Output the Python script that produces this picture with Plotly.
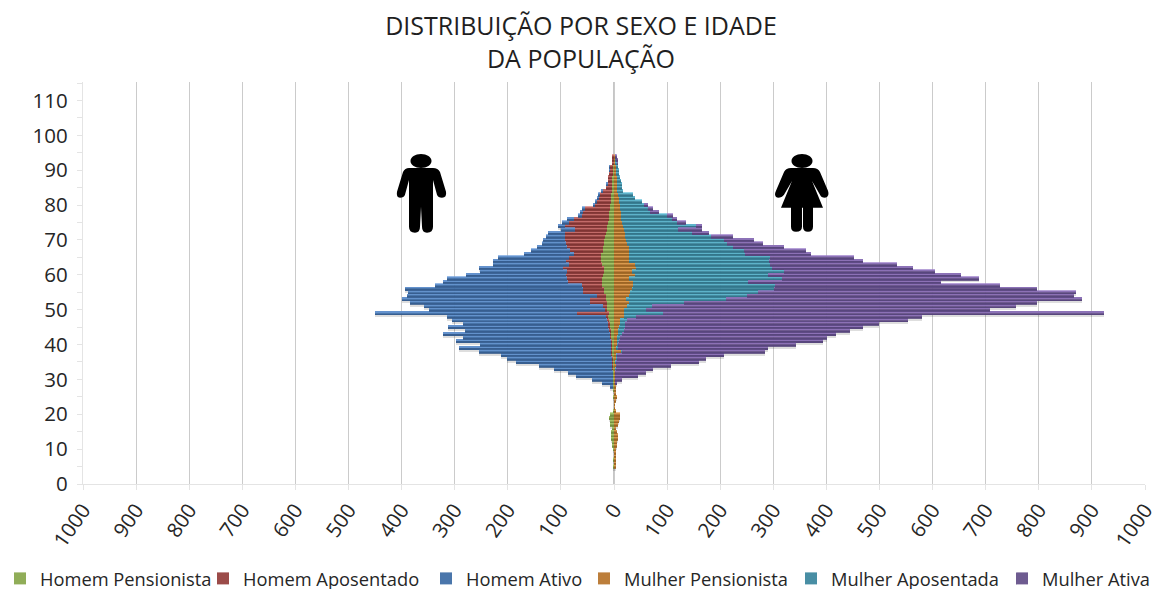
import numpy as np
import plotly.graph_objects as go

W, H = 1156, 589
ML, MR, MT, MB = 83, 11, 82, 104.5

ages = list(range(94, 4, -1))

homem_pensionista = [0,1,1,2,2,2,3,3,3,3,4,5,5,6,7,7,9,10,10,12,14,14,16,17,18,18,20,21,24,24,24,22,19,19,21,22,22,22,19,18,15,15,14,14,13,10,12,10,8,8,7,6,6,5,5,4,5,4,3,3,2,2,2,2,1,1,1,
                     1,0,1,0,0,0,1,8,9,8,7,4,5,6,6,2,2,1,0,0,1,0,1]
homem_aposentado = [2,2,3,6,6,7,8,8,10,12,18,23,25,27,29,48,49,50,66,72,78,59,76,75,74,72,68,62,51,61,66,63,77,69,69,66,64,38,39,40,17,30,31,7,4,60,3,3,4,3,2,1,1,1,1,1,1,1,1,1,1,1,0,0,0,0,0,
                    0,0,0,0,0,0,0,0,0,0,0,0,0,0,0,0,0,0,0,0,0,0,0]
homem_ativo = [0,0,0,1,1,0,0,0,1,0,1,2,2,2,2,5,6,8,12,14,13,27,32,36,41,46,57,74,94,133,138,143,158,164,189,227,236,277,335,330,358,355,339,337,331,380,300,292,272,301,271,315,277,292,246,286,248,208,198,180,138,110,84,70,40,22,7,
               0,0,0,0,0,0,0,0,0,0,0,0,0,0,0,0,0,0,0,0,0,0,0]
mulher_pensionista = [2,3,3,3,4,4,5,5,5,6,6,8,9,10,11,12,13,13,14,15,16,18,20,21,22,24,28,28,28,28,28,40,42,33,40,29,36,36,33,31,28,22,28,25,19,19,19,12,12,10,8,8,6,6,6,5,14,5,4,3,3,2,2,2,2,3,3,
                      3,4,5,2,1,1,2,11,11,9,7,4,6,7,8,5,5,3,2,2,3,3,3]
mulher_aposentada = [1,2,3,5,5,5,6,8,10,9,11,28,31,43,46,52,55,87,95,104,139,102,127,162,185,188,197,216,219,266,263,254,255,287,250,288,217,268,268,241,222,188,104,47,41,74,23,13,8,10,10,7,6,4,2,2,1,1,1,1,0,1,0,0,0,0,0,
                     0,0,0,0,0,0,0,0,0,0,0,0,0,0,0,0,0,0,0,0,0,0,0]
mulher_ativa = [1,1,1,0,0,0,0,0,0,0,0,0,0,0,7,9,17,11,10,17,10,45,32,41,57,69,95,118,124,158,178,239,266,284,363,370,363,423,495,598,616,671,664,685,648,830,538,528,479,449,426,403,389,384,335,283,269,201,168,156,104,70,58,43,13,2,0,
                0,0,0,0,0,0,0,0,0,0,0,0,0,0,0,0,0,0,0,0,0,0,0]

x_tickvals = list(range(-1000, 1001, 100))
x_ticktext = [str(abs(v)) for v in x_tickvals]

series = [
    ("Homem Pensionista", homem_pensionista, -1, "#8aa84e", "#b0cf70", "#6f8a3a", 29),
    ("Homem Aposentado", homem_aposentado, -1, "#95403e", "#d57a78", "#7a302f", 243),
    ("Homem Ativo", homem_ativo, -1, "#3f6ea6", "#6f9fdc", "#33598a", 466),
    ("Mulher Pensionista", mulher_pensionista, 1, "#b8762f", "#e8a758", "#96601f", 624),
    ("Mulher Aposentada", mulher_aposentada, 1, "#3d889f", "#68c4dc", "#2f7186", 831),
    ("Mulher Ativa", mulher_ativa, 1, "#66518a", "#9a7cc8", "#54427a", 1042),
]

fig = go.Figure()

men_total = np.array(homem_pensionista) + np.array(homem_aposentado) + np.array(homem_ativo)
women_total = np.array(mulher_pensionista) + np.array(mulher_aposentada) + np.array(mulher_ativa)
for tot, sgn in ((men_total, -1), (women_total, 1)):
    fig.add_bar(y=ages, x=sgn * tot, orientation="h", width=1, offset=-1.2,
                marker=dict(color="rgba(0,0,0,0.13)", line_width=0),
                showlegend=False, hoverinfo="skip")

FONT = "Open Sans"
legends = {}
bases = {-1: np.zeros(len(ages)), 1: np.zeros(len(ages))}
for i, (name, vals, sgn, col, light, dark, text_x) in enumerate(series):
    v = sgn * np.array(vals, dtype=float)
    b = bases[sgn].copy()
    lid = "legend" if i == 0 else f"legend{i + 1}"
    legends[lid] = dict(orientation="h", xref="container", yref="container",
                        x=(text_x - 40) / W, xanchor="left", y=1 - 560 / H, yanchor="top",
                        font=dict(family=FONT, size=18.3, color="#262626"),
                        itemwidth=30, bgcolor="rgba(0,0,0,0)", itemclick=False)
    fig.add_bar(name=name, y=ages, x=v, base=b, orientation="h", width=1, offset=-0.5,
                marker=dict(color=col, line_width=0), opacity=0.94, legend=lid, showlegend=True)
    fig.add_bar(y=ages, x=v, base=b, orientation="h", width=0.25, offset=0.22,
                marker=dict(color=light, line_width=0), opacity=0.7,
                showlegend=False, hoverinfo="skip")
    fig.add_bar(y=ages, x=v, base=b, orientation="h", width=0.25, offset=-0.5,
                marker=dict(color=dark, line_width=0), opacity=0.8,
                showlegend=False, hoverinfo="skip")
    bases[sgn] = b + v

PW, PH = W - ML - MR, H - MT - MB
def P(x, y):
    return f"{(x - ML) / PW:.5f},{(H - MB - y) / PH:.5f}"

def path(cmds):
    out = []
    for c in cmds:
        if c == "Z":
            out.append("Z")
        else:
            pts = " ".join(P(*p) for p in c[1:])
            out.append(c[0] + pts)
    return " ".join(out)

def ellipse(cx, cy, rx, ry):
    k = 0.5523
    return path([("M", (cx - rx, cy)),
                 ("C", (cx - rx, cy - k * ry), (cx - k * rx, cy - ry), (cx, cy - ry)),
                 ("C", (cx + k * rx, cy - ry), (cx + rx, cy - k * ry), (cx + rx, cy)),
                 ("C", (cx + rx, cy + k * ry), (cx + k * rx, cy + ry), (cx, cy + ry)),
                 ("C", (cx - k * rx, cy + ry), (cx - rx, cy + k * ry), (cx - rx, cy)), "Z"])

man = path([("M", (409, 168)), ("L", (433, 168)), ("Q", (438, 168), (440, 172)),
            ("L", (446, 192)), ("Q", (447, 198), (442, 198)), ("Q", (438, 198), (437, 195)),
            ("L", (433, 180)), ("L", (433, 227)), ("Q", (433, 233), (427, 233)),
            ("Q", (422, 233), (422, 227)), ("L", (421, 207)), ("L", (420, 227)),
            ("Q", (420, 233), (415, 233)), ("Q", (409, 233), (409, 227)),
            ("L", (409, 180)), ("L", (405, 195)), ("Q", (404, 198), (400, 198)),
            ("Q", (396, 198), (397, 192)), ("L", (403, 172)), ("Q", (405, 168), (409, 168)), "Z"])
woman = path([("M", (791, 168)), ("L", (813, 168)), ("Q", (818, 168), (820, 172)),
              ("L", (828, 191)), ("Q", (830, 197), (825, 198)), ("Q", (821, 198), (820, 195)),
              ("L", (812, 181)), ("L", (823, 208)), ("L", (813, 208)), ("L", (813, 227)),
              ("Q", (813, 232), (808, 232)), ("Q", (803, 232), (803, 227)), ("L", (803, 208)),
              ("L", (802, 208)), ("L", (802, 227)), ("Q", (802, 232), (796, 232)),
              ("Q", (791, 232), (791, 227)), ("L", (791, 208)), ("L", (781, 208)),
              ("L", (792, 181)), ("L", (784, 195)), ("Q", (782, 198), (778, 198)),
              ("Q", (773, 197), (776, 191)), ("L", (784, 172)), ("Q", (786, 168), (791, 168)), "Z"])
shapes = []
for d in (ellipse(421, 161, 10.5, 7), man, ellipse(802, 161, 10.5, 7), woman):
    shapes.append(dict(type="path", xref="paper", yref="paper", path=d,
                       fillcolor="#000000", line_width=0, layer="above"))

fig.update_layout(
    width=W, height=H, autosize=False,
    margin=dict(l=ML, r=MR, t=MT, b=MB, pad=0, autoexpand=False),
    paper_bgcolor="white", plot_bgcolor="white",
    barmode="overlay", bargap=0,
    font=dict(family=FONT, color="#262626"),
    title=dict(text="DISTRIBUIÇÃO POR SEXO E IDADE<br>DA POPULAÇÃO",
               x=581 / W, xanchor="center", y=1 - 35 / H, yanchor="middle",
               font=dict(family=FONT, size=25, color="#1f1f1f")),
    xaxis=dict(range=[-1000, 1000], tickmode="array", tickvals=x_tickvals, ticktext=x_ticktext,
               tickangle=-55, tickfont=dict(size=20.5, color="#262626"), automargin=False,
               ticklabeloverflow="allow",
               showgrid=True, gridcolor="#cbcbcb", gridwidth=1.3, zeroline=False,
               ticks="outside", ticklen=5, tickcolor="#e4e4e4", showline=True, linecolor="#e4e4e4"),
    yaxis=dict(range=[0, 115.3], tickmode="array", tickvals=list(range(0, 111, 10)),
               tickfont=dict(size=20.5, color="#262626"), automargin=False, ticklabelstandoff=5,
               showgrid=False, zeroline=False, ticks="outside", ticklen=5, tickcolor="#e4e4e4",
               showline=True, linecolor="#e4e4e4", linewidth=1.3,
               minor=dict(tickmode="array", tickvals=list(range(5, 116, 10)),
                          ticks="outside", ticklen=5, tickcolor="#e4e4e4")),
    shapes=shapes,
    showlegend=True,
    **legends,
)
fig.add_shape(type="line", x0=0, x1=0, y0=0, y1=115.3, xref="x", yref="y",
              line=dict(color="#a8a8a8", width=1.3), layer="below")

fig.write_html("out.html", config={"displayModeBar": False},
               post_script="document.body.style.margin='0';document.body.style.overflow='hidden';")
